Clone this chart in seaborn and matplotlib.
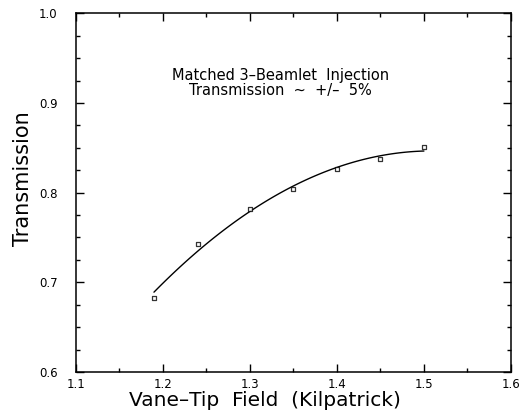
import matplotlib
matplotlib.use("Agg")
import matplotlib.pyplot as plt
import seaborn as sns
import pandas as pd
import numpy as np
from matplotlib.ticker import MultipleLocator

vane_field = [1.19, 1.24, 1.30, 1.35, 1.40, 1.45, 1.50]
transmission = [0.683, 0.743, 0.7815, 0.8045, 0.826, 0.837, 0.8505]

df = pd.DataFrame({"field": vane_field, "trans": transmission})

sns.set_style("ticks")
plt.rcParams["font.family"] = ["DejaVu Sans"]
plt.rcParams["text.color"] = "black"
plt.rcParams["axes.labelcolor"] = "black"
plt.rcParams["xtick.color"] = "black"
plt.rcParams["ytick.color"] = "black"
plt.rcParams["axes.edgecolor"] = "black"

fig = plt.figure(figsize=(5.26, 4.15), dpi=100)
ax = fig.add_axes([0.1437, 0.1036, 0.8278, 0.8644])

# quadratic fit through the points, plus hollow square markers
sns.regplot(data=df, x="field", y="trans", order=2, ci=None, ax=ax,
            marker="s",
            scatter_kws=dict(s=12, facecolors="white", edgecolors="black", linewidths=0.9, zorder=3),
            line_kws=dict(color="black", lw=1.0))

ax.set_xlim(1.1, 1.6)
ax.set_ylim(0.6, 1.0)
ax.xaxis.set_major_locator(MultipleLocator(0.1))
ax.xaxis.set_minor_locator(MultipleLocator(0.05))
ax.yaxis.set_major_locator(MultipleLocator(0.1))
ax.yaxis.set_minor_locator(MultipleLocator(0.025))
ax.tick_params(which="both", direction="in", top=True, right=True, labelsize=8.5)
ax.tick_params(axis="x", pad=4)
ax.tick_params(axis="y", pad=13)
ax.tick_params(which="major", length=6, width=1)
ax.tick_params(which="minor", length=3, width=1)
for s in ax.spines.values():
    s.set_linewidth(1.1)

ax.set_xlabel("Vane\u2013Tip  Field  (Kilpatrick)", fontsize=14.5)
ax.xaxis.set_label_coords(0.435, -0.053)
ax.set_ylabel("Transmission", fontsize=15)
ax.yaxis.set_label_coords(-0.097, 0.54)

ax.text(0.47, 0.805, "Matched 3\u2013Beamlet  Injection\nTransmission  ~  +/\u2013  5%",
        transform=ax.transAxes, ha="center", va="center", fontsize=10.5, linespacing=1.0)

fig.savefig("out.png", dpi=100)
